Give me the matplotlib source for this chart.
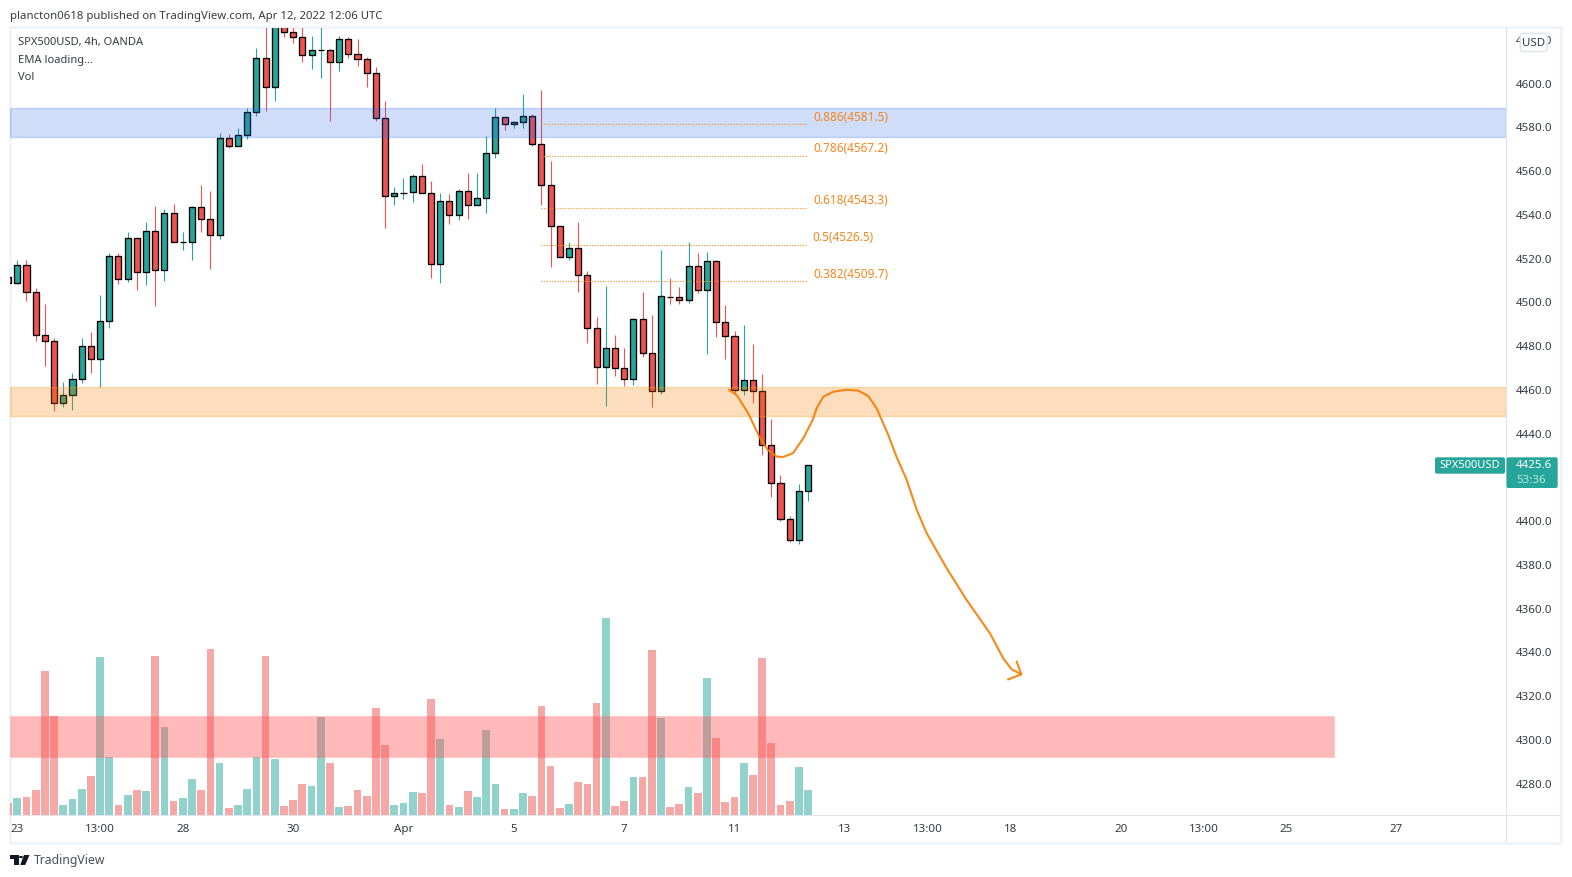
import matplotlib
matplotlib.use("Agg")
import matplotlib.pyplot as plt
from matplotlib.patches import Rectangle, Polygon, FancyBboxPatch
from matplotlib.transforms import IdentityTransform

W, H = 1572, 878

bar_index = list(range(-1, 87))
opens = [4511.5,
 4509.0, 4517.0, 4504.6, 4484.9, 4482.2, 4453.8, 4457.4, 4464.8, 4479.9, 4473.9,
 4491.3, 4521.1, 4510.6, 4529.3, 4513.8, 4532.5, 4514.7, 4540.8, 4527.5, 4527.5,
 4543.5, 4538.0, 4530.7, 4575.1, 4571.5, 4576.5, 4587.0, 4611.8, 4598.5, 4630.0,
 4623.6, 4621.4, 4613.1, 4615.4, 4615.4, 4609.9, 4620.4, 4613.6, 4611.3, 4604.9,
 4584.3, 4548.6, 4549.9, 4550.4, 4557.7, 4549.9, 4517.4, 4546.3, 4539.9, 4550.9,
 4544.4, 4547.6, 4568.2, 4584.7, 4581.5, 4582.4, 4585.2, 4572.4, 4553.6, 4534.8,
 4520.6, 4524.7, 4512.4, 4488.1, 4470.3, 4479.0, 4469.8, 4464.8, 4492.2, 4476.7,
 4459.3, 4502.6, 4502.3, 4501.0, 4516.5, 4505.5, 4518.8, 4490.9, 4484.4, 4459.7,
 4464.3, 4459.3, 4434.5, 4417.1, 4400.7, 4391.0, 4413.5]
closes = [4509.0,
 4517.0, 4504.6, 4484.9, 4482.2, 4453.8, 4457.4, 4464.8, 4479.9, 4473.9, 4491.3,
 4521.1, 4510.6, 4529.3, 4513.8, 4532.5, 4514.7, 4540.8, 4527.5, 4527.5, 4543.5,
 4538.0, 4530.7, 4575.1, 4571.5, 4576.5, 4587.0, 4611.8, 4598.5, 4632.0, 4623.6,
 4621.4, 4613.1, 4615.4, 4615.4, 4609.9, 4620.4, 4613.6, 4611.3, 4604.9, 4584.3,
 4548.6, 4549.9, 4550.2, 4557.7, 4549.9, 4517.4, 4546.3, 4539.9, 4550.9, 4544.4,
 4547.6, 4568.2, 4584.7, 4581.5, 4582.4, 4585.2, 4572.4, 4553.6, 4534.8, 4520.6,
 4524.7, 4512.4, 4488.1, 4470.3, 4479.0, 4469.8, 4464.8, 4492.2, 4476.7, 4459.3,
 4502.8, 4502.3, 4501.0, 4516.5, 4505.5, 4518.8, 4490.9, 4484.4, 4459.7, 4464.3,
 4459.3, 4434.5, 4417.1, 4400.7, 4391.0, 4413.5, 4425.6]
highs = [4511.5,
 4519.4, 4519.4, 4506.4, 4499.3, 4483.5, 4463.5, 4467.5, 4483.5, 4486.3, 4503.4,
 4522.5, 4522.5, 4532.2, 4529.3, 4536.8, 4544.1, 4542.6, 4545.0, 4532.2, 4544.1,
 4553.7, 4551.0, 4577.4, 4576.9, 4579.7, 4588.9, 4616.3, 4632.0, 4636.0, 4633.0,
 4627.0, 4627.0, 4622.0, 4628.0, 4616.0, 4622.0, 4621.4, 4620.6, 4612.2, 4607.6,
 4592.2, 4552.7, 4556.8, 4558.6, 4563.2, 4555.4, 4549.9, 4549.6, 4551.8, 4559.1,
 4559.1, 4576.0, 4588.9, 4584.7, 4583.1, 4595.4, 4586.3, 4597.2, 4564.7, 4534.8,
 4527.5, 4536.7, 4514.2, 4493.3, 4507.5, 4485.1, 4479.1, 4492.8, 4504.8, 4494.2,
 4524.0, 4511.2, 4507.0, 4527.5, 4522.6, 4523.1, 4519.4, 4498.8, 4486.9, 4489.6,
 4481.0, 4467.2, 4446.6, 4421.0, 4402.2, 4416.7, 4425.6]
lows = [4509.0,
 4508.4, 4500.6, 4482.3, 4471.0, 4450.4, 4452.2, 4450.7, 4463.2, 4467.5, 4461.4,
 4488.1, 4508.4, 4509.5, 4505.7, 4508.0, 4498.3, 4509.8, 4527.5, 4524.0, 4519.4,
 4532.2, 4515.3, 4529.0, 4570.5, 4571.5, 4575.0, 4585.5, 4587.8, 4592.4, 4621.7,
 4618.9, 4610.2, 4607.0, 4602.9, 4583.2, 4606.1, 4612.1, 4608.4, 4598.8, 4583.2,
 4534.2, 4544.6, 4547.3, 4546.1, 4549.9, 4511.3, 4509.0, 4535.9, 4537.7, 4538.2,
 4544.4, 4541.1, 4566.3, 4578.9, 4580.0, 4580.0, 4571.6, 4544.6, 4516.4, 4520.6,
 4519.4, 4504.8, 4481.4, 4462.6, 4452.7, 4466.3, 4461.7, 4462.2, 4475.2, 4452.2,
 4458.2, 4499.4, 4499.4, 4499.9, 4504.3, 4476.4, 4484.1, 4474.1, 4457.6, 4457.6,
 4453.9, 4430.1, 4410.9, 4400.1, 4390.4, 4389.5, 4409.2]
volumes = [36,
 51, 54, 75, 432, 297, 30, 48, 78, 117, 474,
 174, 30, 60, 75, 72, 477, 264, 42, 51, 108,
 75, 498, 156, 21, 30, 78, 174, 477, 168, 27,
 45, 93, 87, 294, 156, 24, 27, 75, 57, 321,
 210, 30, 36, 69, 66, 348, 228, 30, 24, 72,
 54, 255, 93, 18, 18, 66, 57, 327, 147, 21,
 33, 99, 93, 336, 591, 27, 42, 114, 114, 495,
 291, 24, 33, 84, 66, 411, 231, 39, 54, 156,
 120, 471, 216, 30, 42, 144, 75]

fib_ratios = ["0.886", "0.786", "0.618", "0.5", "0.382"]
fib_prices = [4581.5, 4567.2, 4543.3, 4526.5, 4509.7]
fib_start, fib_end = 57.0, 85.9

blue_zone = (4575.6, 4588.9)
orange_zone = (4448.1, 4461.2)
red_zone = (4292.0, 4310.5)
red_zone_end = 143.16

path_idx = [77.4, 78.24, 79.47, 80.77, 81.64, 82.59, 83.27, 84.36, 85.48, 86.5, 86.94, 87.66, 88.74, 90.2,
            91.46, 92.55, 93.46, 94.72, 95.64, 96.73, 97.81, 98.9, 101.07, 103.25, 105.79, 107.23, 108.14, 109.12]
path_price = [4459.9, 4457.6, 4449.4, 4437.9, 4432.4, 4429.4, 4429.2, 4431.0, 4437.8, 4446.2, 4451.6, 4456.8, 4459.1, 4460.0,
              4459.6, 4457.1, 4451.5, 4439.3, 4429.1, 4418.7, 4405.1, 4394.3, 4378.3, 4363.7, 4348.4, 4337.0, 4332.0, 4329.9]
head_idx = [107.77, 109.19, 108.69]
head_price = [4327.4, 4329.7, 4335.5]

# 4420.0 is hidden behind the last-price tag in the reference
price_ticks = [4620, 4600, 4580, 4560, 4540, 4520, 4500, 4480, 4460, 4440, 4400, 4380, 4360, 4340, 4320, 4300, 4280]
time_ticks = [0, 9, 18, 30, 42, 54, 66, 78, 90, 99, 108, 120, 129, 138, 150]
time_labels = ["23", "13:00", "28", "30", "Apr", "5", "7", "11", "13", "13:00", "18", "20", "13:00", "25", "27"]

UP = "#26a69a"
DOWN = "#ef5350"
TXT = "#131722"
FONT = "Noto Sans"
DY = 1.0
plt.rcParams["font.family"] = [FONT, "DejaVu Sans"]

fig = plt.figure(figsize=(W / 100, H / 100), dpi=100, facecolor="white")


def fx(x):
    return x / W


def fy(y):
    return 1 - (y + DY) / H


def fig_rect(x0, y0, x1, y1, **kw):
    fig.add_artist(Rectangle((fx(x0), fy(y1)), (x1 - x0) / W, (y1 - y0) / H, transform=fig.transFigure, **kw))


def round_box(x0, y0, x1, y1, radius=2, **kw):
    fig.add_artist(FancyBboxPatch((x0, H - (y1 + DY)), x1 - x0, y1 - y0,
                                  boxstyle=f"round,pad=0,rounding_size={radius}",
                                  transform=IdentityTransform(), **kw))


PL, PR, PT, PB = 10.0, 1506.0, 27.5, 815.0
rect = [fx(PL), fy(PB), (PR - PL) / W, (PB - PT) / H]

# frame and axis lines
fig_rect(9.5, 26.5, 1561, 842.5, facecolor="none", edgecolor="#f0f3fa", linewidth=2.0)
fig_rect(10.5, 814.6, 1560, 815.6, facecolor="#e0e3eb", edgecolor="none")
fig_rect(1505.6, 27.5, 1506.6, 841.5, facecolor="#e0e3eb", edgecolor="none")

# volume pane underneath the candles
ax_v = fig.add_axes(rect, zorder=1)
ax_v.set_xlim((PL - 17.3) / 9.195, (PR - 17.3) / 9.195)
ax_v.set_ylim(0, (PB - PT) * 3)
ax_v.axis("off")
colors = [UP if c >= o else DOWN for o, c in zip(opens, closes)]
ax_v.bar(bar_index, volumes, width=0.84, color=colors, alpha=0.5, linewidth=0)

# main pane
ax = fig.add_axes(rect, zorder=2)
ax.patch.set_alpha(0)
ax.set_xlim(*ax_v.get_xlim())
ax.set_ylim(4600 - (PB - 84) / 2.184, 4600 - (PT - 84) / 2.184)
ax.axis("off")

ax.vlines(bar_index, lows, highs, colors=colors, linewidth=0.8, zorder=2)
ax.bar(bar_index, [c - o for o, c in zip(opens, closes)], bottom=opens, width=0.66,
       color=colors, edgecolor="black", linewidth=0.95, zorder=3)

ax.axhspan(*blue_zone, facecolor=(0.16, 0.40, 0.91, 0.22), edgecolor=(0.16, 0.45, 0.95, 0.25), linewidth=1, zorder=5)
ax.axhspan(*orange_zone, facecolor=(0.96, 0.49, 0.0, 0.26), edgecolor=(0.98, 0.66, 0.15, 0.35), linewidth=1, zorder=5)
ax.add_patch(Rectangle((ax.get_xlim()[0], red_zone[0]), red_zone_end - ax.get_xlim()[0], red_zone[1] - red_zone[0],
                       facecolor=(1.0, 0.32, 0.32, 0.4), edgecolor=(1.0, 0.32, 0.32, 0.12), linewidth=1, zorder=5))

for ratio, price in zip(fib_ratios, fib_prices):
    ax.plot([fib_start, fib_end], [price, price], color="#f7931a", linewidth=0.8, linestyle=(0, (1, 1.4)), zorder=6)
    ax.annotate(f"{ratio}({price})", xy=(fib_end, price), xytext=(4.5 if ratio != "0.5" else 3.5, 5.8),
                textcoords="offset points", color="#f5861f", fontsize=8.5, ha="left", va="center", zorder=7)

ax.plot(path_idx, path_price, color="#f57c00", alpha=0.9, linewidth=1.5, solid_joinstyle="round", zorder=8)
ax.plot(head_idx, head_price, color="#f57c00", alpha=0.9, linewidth=1.5, solid_joinstyle="miter", zorder=8)

# price scale
for p in price_ticks:
    yp = 84 + (4600 - p) * 2.188
    fig.text(fx(1533.8), fy(yp), f"{p}.0", color=TXT, alpha=0.85, fontsize=8.3, ha="center", va="center", zorder=5)

# time scale
for i, lab in zip(time_ticks, time_labels):
    x = 17.3 + 9.195 * i
    fig.text(fx(x), fy(828.5), lab, color=TXT, alpha=0.85, fontsize=8.3, ha="center", va="center",
             fontweight="bold" if lab == "Apr" else "normal", zorder=5)

# USD button
round_box(1520.3, 33.3, 1547.3, 51.5, radius=3, facecolor="white", edgecolor="#e0e3eb", linewidth=1, zorder=6)
fig.text(fx(1533.8), fy(42.6), "USD", color=TXT, alpha=0.85, fontsize=8.3, ha="center", va="center", zorder=7)

# last price tags
round_box(1435, 457.3, 1505, 473.7, facecolor=UP, edgecolor="none", zorder=6)
round_box(1506.5, 457.3, 1557.7, 488, facecolor=UP, edgecolor="none", zorder=6)
fig.text(fx(1470), fy(464.9), "SPX500USD", color="white", fontsize=8.0, fontweight="bold", ha="center", va="center", zorder=7)
fig.text(fx(1534), fy(465), "4425.6", color="white", fontsize=8.3, fontweight="bold", ha="center", va="center", zorder=7)
fig.text(fx(1531), fy(480), "53:36", color="#bfe5e1", fontsize=8.3, ha="center", va="center", zorder=7)

# header and legend
fig.text(fx(10.3), fy(15), "plancton0618 published on TradingView.com, Apr 12, 2022 12:06 UTC", color=TXT, alpha=0.85,
         fontsize=8.2, ha="left", va="center")
for y, t in [(42, "SPX500USD, 4h, OANDA"), (59, "EMA loading..."), (76, "Vol")]:
    fig.text(fx(18), fy(y), t, color=TXT, alpha=0.85, fontsize=8.0, ha="left", va="center", zorder=5)

# footer logo and text
for pts in [[(10, 855), (18.5, 855), (18.5, 865), (14.5, 865), (14.5, 859), (10, 859)],
            [(24, 855), (29.5, 855), (25.2, 865), (20.2, 865)]]:
    fig.add_artist(Polygon([(fx(a), fy(b)) for a, b in pts], closed=True, transform=fig.transFigure,
                           facecolor="#131722", edgecolor="none"))
fig.add_artist(plt.Circle((fx(21), fy(857)), 2.0 / W, transform=fig.transFigure, facecolor="#131722", edgecolor="none"))
fig.text(fx(33.5), fy(859.5), "TradingView", color="#4a4e5a", fontsize=8.8, ha="left", va="center")

fig.savefig("out.png", dpi=100, facecolor="white")
